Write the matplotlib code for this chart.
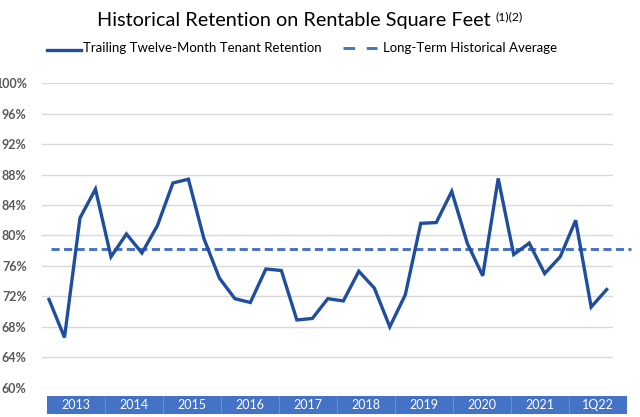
import matplotlib

matplotlib.use("Agg")
import matplotlib.pyplot as plt
from matplotlib.lines import Line2D

plt.rcParams["font.family"] = ["Lato", "DejaVu Sans"]

# quarterly trailing twelve-month tenant retention, % (1Q13 .. 1Q22)
retention = [
    71.6, 66.6, 82.3, 86.1,   # 2013
    77.2, 80.2, 77.7, 81.3,   # 2014
    86.9, 87.4, 79.6, 74.4,   # 2015
    71.7, 71.2, 75.6, 75.4,   # 2016
    68.9, 69.1, 71.7, 71.4,   # 2017
    75.3, 73.1, 68.0, 72.2,   # 2018
    81.6, 81.7, 85.8, 79.0,   # 2019
    74.7, 87.5, 77.5, 79.0,   # 2020
    75.0, 77.2, 82.0, 70.6,   # 2021
    72.9,                     # 1Q22
]
long_term_avg = 78.2
year_labels = ["2013", "2014", "2015", "2016", "2017",
               "2018", "2019", "2020", "2021", "1Q22"]
y_ticks = [60, 64, 68, 72, 76, 80, 84, 88, 92, 96, 100]

W, H = 640, 417
LINE = "#1F4E9F"
DASH = "#4472C4"
BAND = "#4472C4"


def fx(px):
    return px / W


def fy(py):
    return 1 - py / H


fig = plt.figure(figsize=(W / 100, H / 100), dpi=100)

# main plot area
ax = fig.add_axes([fx(42), fy(387.7), (613 - 42) / W, (387.7 - 83.3) / H])
x = list(range(len(retention)))
ax.plot(x, retention, color=LINE, lw=2.4, solid_joinstyle="miter", zorder=3)
ax.plot([0.1, 37.6], [long_term_avg, long_term_avg], color=DASH, lw=2.1,
        dashes=(2.8, 1.5), clip_on=False, zorder=2)
ax.set_xlim(-0.452, 36.41)
ax.set_ylim(60, 100)
ax.set_yticks(y_ticks)
ax.set_yticklabels([f"{v}%" for v in y_ticks], color="#595959",
                   fontsize=9, fontweight="bold")
ax.tick_params(axis="y", length=0, pad=11)
ax.set_xticks([])
ax.grid(axis="y", color="#D9D9D9", lw=1.0)
for s in ax.spines.values():
    s.set_visible(False)

# year band under the plot
band = fig.add_axes([fx(47), fy(414.3), (627 - 47) / W, (414.3 - 395.7) / H])
band.set_xlim(0, len(year_labels))
band.set_ylim(0, 1)
band.axvspan(0, len(year_labels), color=BAND, lw=0)
for i, lab in enumerate(year_labels):
    band.text(i + 0.5, 0.5, lab, color="white", fontsize=9,
              ha="center", va="center")
    if i > 0:
        band.axvline(i, color="white", lw=0.6, alpha=0.25)
band.axis("off")

# title with superscript notes
title = fig.text(fx(97), fy(26), "Historical Retention on Rentable Square Feet",
                 fontsize=14.3, ha="left", va="baseline", color="black")
fig.canvas.draw()
tb = title.get_window_extent()
fig.text((tb.x1 + 5) / W, fy(20), "(1)(2)", fontsize=8.8, ha="left",
         va="baseline", color="black")

# legend drawn by hand
fig.add_artist(Line2D([fx(47), fx(81)], [fy(50), fy(50)], color=LINE, lw=2.4))
fig.text(fx(83), fy(51.5), "Trailing Twelve-Month Tenant Retention",
         fontsize=9.5, ha="left", va="baseline")
fig.add_artist(Line2D([fx(343), fx(377)], [fy(48), fy(48)], color=DASH,
                      lw=2.1, dashes=(4, 4)))
fig.text(fx(383), fy(51.5), "Long-Term Historical Average",
         fontsize=9.5, ha="left", va="baseline")

fig.savefig("out.png", dpi=100)
